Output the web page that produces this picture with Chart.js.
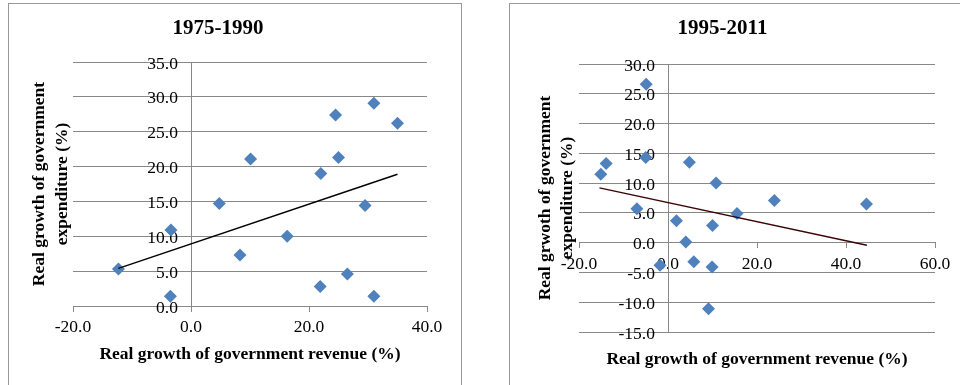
<!DOCTYPE html>
<html>
<head>
<meta charset="utf-8">
<script src="https://cdn.jsdelivr.net/npm/chart.js@4.4.1/dist/chart.umd.min.js"></script>
<style>
  html, body { margin: 0; padding: 0; background: #fff; overflow: hidden; }
  .panel { position: absolute; top: 3px; border: 1px solid #999; border-bottom: none; }
  #panelLeft { left: 8px; width: 452px; height: 381px; }
  #panelRight { left: 509px; width: 462px; height: 381px; border-right: none; }
  canvas { display: block; }
</style>
</head>
<body>
<div class="panel" id="panelLeft"><canvas id="chartLeft" width="452" height="381"></canvas></div>
<div class="panel" id="panelRight"><canvas id="chartRight" width="462" height="381"></canvas></div>
<script>
// 1975-1990 (x = revenue growth, y = expenditure growth)
const revenue7590 = [-12.3, -3.5, -3.4, 4.8, 8.3, 10.1, 16.3, 22.0, 21.9, 24.5, 25.0, 26.5, 29.5, 31.0, 31.0, 35.0];
const expenditure7590 = [5.3, 1.4, 10.9, 14.7, 7.3, 21.1, 10.0, 19.0, 2.8, 27.4, 21.3, 4.6, 14.4, 29.1, 1.4, 26.2];
const trendX7590 = [-12.3, 35.0];
const trendY7590 = [5.4, 18.9];

// 1995-2011
const revenue9511 = [-15.1, -13.9, -4.9, -5.0, -7.0, -1.8, 1.9, 4.0, 4.8, 5.8, 9.1, 10.0, 9.9, 10.8, 15.5, 23.9, 44.6];
const expenditure9511 = [11.5, 13.3, 26.6, 14.3, 5.7, -3.8, 3.7, 0.1, 13.5, -3.2, -11.1, 2.9, -4.1, 10.0, 4.9, 7.1, 6.5];
const trendX9511 = [-15.4, 44.7];
const trendY9511 = [9.2, -0.45];

// axis ranges / tick steps
const xRange7590 = [-20, 40];
const yRange7590 = [0, 35];
const xRange9511 = [-20, 60];
const yRange9511 = [-15, 30];

const serif = "'Liberation Serif', 'Times New Roman', serif";
const gridColor = "#888";

const toPoints = (xs, ys) => xs.map((x, i) => ({ x: x, y: ys[i] }));

// draws one scatter panel; dummy scales only hold the axis titles
const buildChart = (id, cfg) => {
  const ctx = document.getElementById(id).getContext("2d");
  return new Chart(ctx, {
    type: "scatter",
    data: {
      datasets: [
        {
          data: toPoints(cfg.xs, cfg.ys),
          pointStyle: "rectRot",
          pointRadius: 6.5,
          backgroundColor: "#4F81BD",
          borderColor: "#4F81BD",
          borderWidth: 0,
          xAxisID: "x",
          yAxisID: "y",
          order: 1
        },
        {
          data: toPoints(cfg.tx, cfg.ty),
          showLine: true,
          pointRadius: 0,
          borderColor: cfg.trendColor,
          borderWidth: 1.5,
          xAxisID: "x",
          yAxisID: "y",
          order: 0
        }
      ]
    },
    options: {
      responsive: false,
      animation: false,
      events: [],
      layout: { padding: { top: 0, right: cfg.padRight, bottom: 0, left: 0 } },
      plugins: {
        legend: { display: false },
        tooltip: { enabled: false },
        title: {
          display: true,
          text: cfg.title,
          color: "#000",
          font: { family: serif, size: 21, weight: "bold", lineHeight: 1.2 },
          padding: { top: 12.4, bottom: cfg.titleGap }
        }
      },
      scales: {
        x: {
          type: "linear",
          axis: "x",
          position: { y: 0 },
          min: cfg.xRange[0],
          max: cfg.xRange[1],
          ticks: {
            stepSize: 20,
            callback: v => v.toFixed(1),
            color: "#000",
            font: { family: serif, size: 17.5 },
            padding: 6,
            maxRotation: 0
          },
          grid: { drawOnChartArea: false, drawTicks: true, tickLength: 5, color: gridColor },
          border: { display: true, color: gridColor }
        },
        y: {
          type: "linear",
          axis: "y",
          position: { x: 0 },
          min: cfg.yRange[0],
          max: cfg.yRange[1],
          ticks: {
            stepSize: 5,
            callback: v => v.toFixed(1) + "   ",
            color: "#000",
            font: { family: serif, size: 17.5 },
            padding: 0,
            labelOffset: 2
          },
          grid: { drawTicks: false, color: gridColor },
          border: { display: true, color: gridColor }
        },
        xTitle: {
          type: "linear",
          axis: "x",
          position: "bottom",
          min: 0,
          max: 1,
          ticks: { display: false },
          grid: { display: false, drawTicks: false },
          border: { display: false },
          title: {
            display: true,
            text: "Real growth of government revenue (%)",
            color: "#000",
            font: { family: serif, size: 17.5, weight: "bold", lineHeight: 1.2 },
            padding: { top: 0, bottom: cfg.xTitlePad }
          },
          afterFit: s => { s.height = cfg.xTitleBox; }
        },
        yTitle: {
          type: "linear",
          axis: "y",
          position: "left",
          min: 0,
          max: 1,
          ticks: { display: false },
          grid: { display: false, drawTicks: false },
          border: { display: false },
          title: {
            display: true,
            text: cfg.yTitle,
            color: "#000",
            font: { family: serif, size: 17.5, weight: "bold", lineHeight: cfg.yLine },
            padding: { top: cfg.yTitlePad, bottom: 0 }
          },
          afterFit: s => { s.width = cfg.yTitleBox; }
        }
      }
    }
  });
};

buildChart("chartLeft", {
  title: "1975-1990",
  xs: revenue7590, ys: expenditure7590,
  tx: trendX7590, ty: trendY7590,
  trendColor: "#000",
  xRange: xRange7590, yRange: yRange7590,
  yTitle: ["Real growth of government", "expenditure (%)"],
  padRight: 34, titleGap: 20.4,
  xTitleBox: 79, xTitlePad: 20,
  yTitleBox: 64, yTitlePad: 19.5, yLine: 1.31
});

buildChart("chartRight", {
  title: "1995-2011",
  xs: revenue9511, ys: expenditure9511,
  tx: trendX9511, ty: trendY9511,
  trendColor: "#3a0505",
  xRange: xRange9511, yRange: yRange9511,
  yTitle: ["Real grwoth of government", "expenditure (%)"],
  padRight: 37, titleGap: 22.4,
  xTitleBox: 53, xTitlePad: 15,
  yTitleBox: 69, yTitlePad: 24, yLine: 1.26
});
</script>
</body>
</html>
